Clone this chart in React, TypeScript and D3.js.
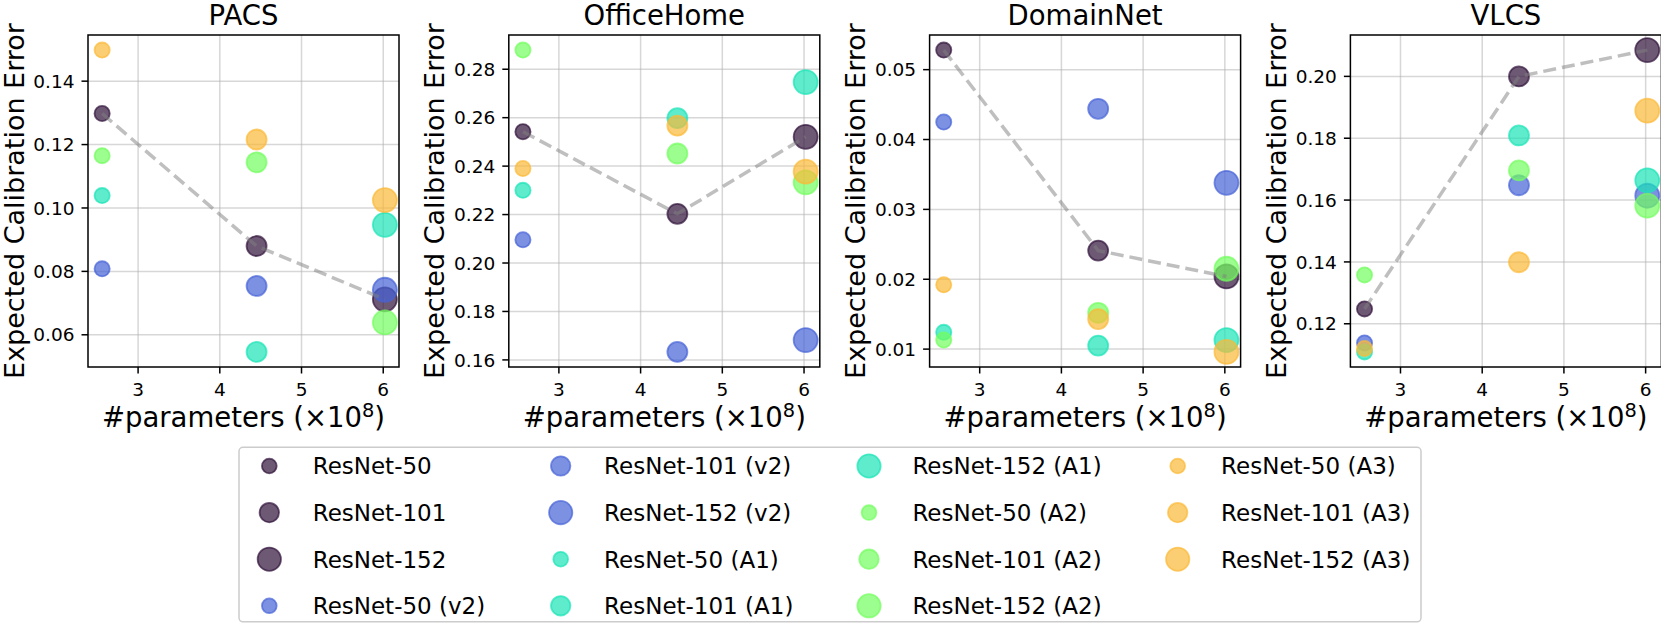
import * as d3 from "d3";

// model depths and their parameter counts (x1e8)
const depths = ["ResNet-50", "ResNet-101", "ResNet-152"];
const nParams = [2.56, 4.45, 6.02];
const families = ["", " (v2)", " (A1)", " (A2)", " (A3)"];
const familyColors = ["#30123b", "#4662d7", "#1ae4b6", "#72fe5e", "#fbb938"];
const xTicks = [3, 4, 5, 6];

// ECE per dataset, [R50, R101, R152] for each family
const pacsBase = [0.1298, 0.088, 0.0712];
const pacsV2 = [0.0808, 0.0754, 0.0742];
const pacsA1 = [0.1039, 0.0546, 0.0947];
const pacsA2 = [0.1165, 0.1144, 0.0639];
const pacsA3 = [0.1498, 0.1216, 0.1025];
const pacsTicks = [0.06, 0.08, 0.1, 0.12, 0.14];

const officeBase = [0.2542, 0.2203, 0.2521];
const officeV2 = [0.2096, 0.1633, 0.1682];
const officeA1 = [0.23, 0.2598, 0.2747];
const officeA2 = [0.2879, 0.2452, 0.2333];
const officeA3 = [0.239, 0.2567, 0.2377];
const officeTicks = [0.16, 0.18, 0.2, 0.22, 0.24, 0.26, 0.28];

const domainBase = [0.0528, 0.0241, 0.0204];
const domainV2 = [0.0425, 0.0444, 0.0338];
const domainA1 = [0.0124, 0.0105, 0.0113];
const domainA2 = [0.0113, 0.0152, 0.0215];
const domainA3 = [0.0192, 0.0143, 0.0096];
const domainTicks = [0.01, 0.02, 0.03, 0.04, 0.05];

const vlcsBase = [0.1248, 0.2, 0.2085];
const vlcsV2 = [0.1138, 0.1648, 0.1614];
const vlcsA1 = [0.1109, 0.1809, 0.1664];
const vlcsA2 = [0.1358, 0.1696, 0.1582];
const vlcsA3 = [0.112, 0.1399, 0.1889];
const vlcsTicks = [0.12, 0.14, 0.16, 0.18, 0.2];

const panels = [
  { title: "PACS", series: [pacsBase, pacsV2, pacsA1, pacsA2, pacsA3], ticks: pacsTicks },
  { title: "OfficeHome", series: [officeBase, officeV2, officeA1, officeA2, officeA3], ticks: officeTicks },
  { title: "DomainNet", series: [domainBase, domainV2, domainA1, domainA2, domainA3], ticks: domainTicks },
  { title: "VLCS", series: [vlcsBase, vlcsV2, vlcsA1, vlcsA2, vlcsA3], ticks: vlcsTicks },
];

const W = 1661;
const H = 624;
const axLeft0 = 88;
const axStep = 420.8;
const axW = 311;
const axTop = 35;
const axBottom = 367;
const radii = [7.6, 10, 12];
const font = "DejaVu Sans";
const alpha = 0.7;

function Panel({ p, left }) {
  const all = p.series.flat();
  const [lo, hi] = d3.extent(all);
  const pad = (hi - lo) * 0.05;
  const y = d3.scaleLinear([lo - pad, hi + pad], [axBottom, axTop]);
  const [xlo, xhi] = d3.extent(nParams);
  const xpad = (xhi - xlo) * 0.05;
  const x = d3.scaleLinear([xlo - xpad, xhi + xpad], [left, left + axW]);
  const line = d3.line<number>((_, i) => x(nParams[i]), (d) => y(d));
  const cx = left + axW / 2;
  const cy = (axTop + axBottom) / 2;

  return (
    <g fontFamily={font}>
      {/* grid */}
      <g stroke="#b0b0b0" strokeOpacity={0.5} strokeWidth={1.5}>
        {xTicks.map((t) => (
          <line key={t} x1={x(t)} x2={x(t)} y1={axTop} y2={axBottom} />
        ))}
        {p.ticks.map((t) => (
          <line key={t} x1={left} x2={left + axW} y1={y(t)} y2={y(t)} />
        ))}
      </g>
      {/* points */}
      {p.series.map((vals, fi) =>
        vals.map((v, di) => (
          <circle
            key={fi + "-" + di}
            cx={x(nParams[di])}
            cy={y(v)}
            r={radii[di]}
            fill={familyColors[fi]}
            fillOpacity={alpha}
            stroke={familyColors[fi]}
            strokeOpacity={alpha}
            strokeWidth={1.8}
          />
        ))
      )}
      <path
        d={line(p.series[0])}
        fill="none"
        stroke="#808080"
        strokeOpacity={0.5}
        strokeWidth={3.5}
        strokeDasharray="13,6"
      />
      {/* frame */}
      <rect x={left} y={axTop} width={axW} height={axBottom - axTop} fill="none" stroke="#000" strokeWidth={1.5} />
      {/* x ticks */}
      {xTicks.map((t) => (
        <g key={t}>
          <line x1={x(t)} x2={x(t)} y1={axBottom} y2={axBottom + 6.5} stroke="#000" strokeWidth={1.5} />
          <text x={x(t)} y={axBottom + 28.5} fontSize={18.5} textAnchor="middle">
            {t}
          </text>
        </g>
      ))}
      {/* y ticks */}
      {p.ticks.map((t) => (
        <g key={t}>
          <line x1={left - 6.5} x2={left} y1={y(t)} y2={y(t)} stroke="#000" strokeWidth={1.5} />
          <text x={left - 13.5} y={y(t)} dy="0.36em" fontSize={18.5} textAnchor="end">
            {d3.format(".2f")(t)}
          </text>
        </g>
      ))}
      <text x={cx} y={25} fontSize={27.5} textAnchor="middle">
        {p.title}
      </text>
      <text x={cx} y={427} fontSize={27.5} textAnchor="middle">
        #parameters (×10
        <tspan dy={-10} fontSize={19.4}>8</tspan>
        <tspan dy={10}>)</tspan>
      </text>
      <text
        transform={`translate(${left - 64.5},${cy}) rotate(-90)`}
        fontSize={27}
        textAnchor="middle"
      >
        Expected Calibration Error
      </text>
    </g>
  );
}

// legend layout (column-major, 4 rows)
const legendItems = families.flatMap((f, fi) =>
  depths.map((d, di) => ({ label: d + f, color: familyColors[fi], r: radii[di] }))
);
const legendMarkerX = [269.3, 560.7, 869, 1177.7];
const legendRow0 = 466;
const legendRowStep = 46.6;

function Legend() {
  return (
    <g fontFamily={font}>
      <rect x={239} y={447.3} width={1182} height={174.5} rx={4} fill="#fff" fillOpacity={0.8} stroke="#cccccc" strokeWidth={1.5} />
      {legendItems.map((it, i) => {
        const col = Math.floor(i / 4);
        const row = i % 4;
        const mx = legendMarkerX[col];
        const my = legendRow0 + row * legendRowStep;
        return (
          <g key={it.label}>
            <circle
              cx={mx}
              cy={my}
              r={it.r * 0.97}
              fill={it.color}
              fillOpacity={alpha}
              stroke={it.color}
              strokeOpacity={alpha}
              strokeWidth={1.8}
            />
            <text x={mx + 43.4} y={my + 8.4} fontSize={23}>
              {it.label}
            </text>
          </g>
        );
      })}
    </g>
  );
}

export default function App() {
  return (
    <svg
      width={W}
      height={H}
      style={{ position: "absolute", left: 0, top: 0, background: "#fff" }}
    >
      <rect width={W} height={H} fill="#fff" />
      {panels.map((p, i) => (
        <Panel key={p.title} p={p} left={axLeft0 + i * axStep} />
      ))}
      <Legend />
    </svg>
  );
}
